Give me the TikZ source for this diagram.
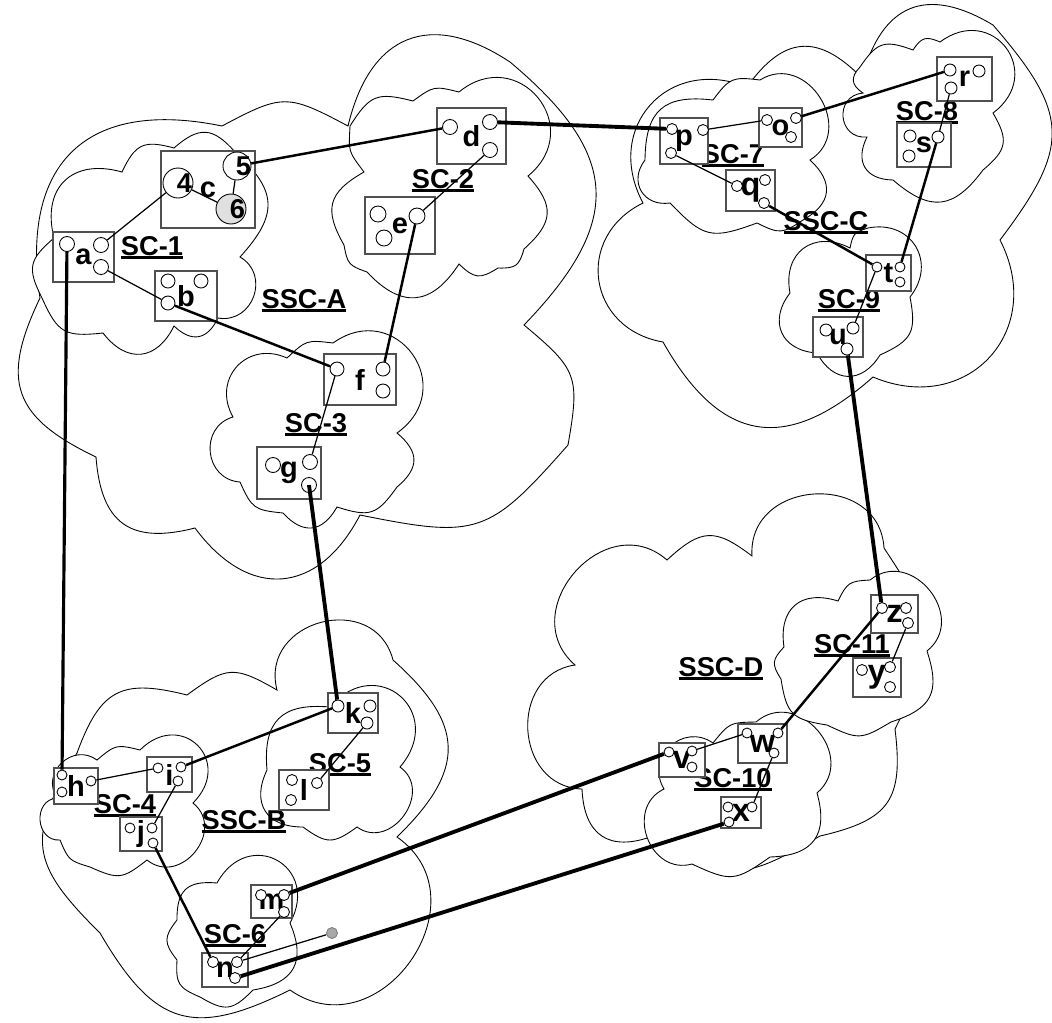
\documentclass[tikz,border=0pt]{standalone}
\usepackage{fontspec}
\setmainfont{Liberation Sans}
\usetikzlibrary{positioning}
\definecolor{boxgray}{HTML}{505050}
\definecolor{portgray}{HTML}{E0E0E0}
\definecolor{dotgray}{HTML}{A8A8A8}
\tikzset{
  cloudline/.style={draw=black,fill=white,line width=0.5pt},
  bump/.style={bend left=#1,looseness=1.4},
  dev/.style={draw=boxgray,fill=white,line width=0.6pt,inner sep=0pt,
    font=\bfseries\fontsize{16.5}{18}\selectfont},
  bigletter/.style={font=\bfseries\fontsize{18.5}{20}\selectfont},
  port/.style={circle,draw=black,fill=white,line width=0.5pt,inner sep=0pt},
  digit/.style={inner sep=0pt,xshift=0.13cm,font=\bfseries\fontsize{15.5}{18}\selectfont},
  lbl/.style={anchor=base,inner sep=0pt,font=\bfseries\fontsize{15.5}{18}\selectfont},
  thinlink/.style={line width=0.7pt},
  midlink/.style={line width=1.4pt},
  thicklink/.style={line width=2.2pt},
}
\newcommand{\undl}[1]{% underlined cluster name
  \setbox0\hbox{#1}\rlap{\rule[-2.3pt]{\wd0}{1.5pt}}\box0}
\newcommand{\devbox}[6][]{% [options]{name}{x}{y}{width}{height}, in pixels
  \node[dev,minimum width=#5*0.02cm,minimum height=#6*0.02cm,#1] (#2) at (#3,-#4) {#2};}
\newcommand{\devport}[5][]{% [options]{name}{x}{y}{radius}
  \node[port,minimum size=#5*0.04cm,#1] (#2) at (#3,-#4) {};}

\begin{document}
\begin{tikzpicture}[x=0.02cm,y=0.02cm]
  \useasboundingbox (0,0) rectangle (1052,-1022);
  % Super clusters
  \draw[cloudline] (40,-298) to[bump=55] (222,-126) to[bump=28] (348,-126)
    to[bump=55] (510,-62) to[bump=47] (524,-325) to[bump=30] (568,-445)
    to[bump=30] (360,-515) to[bump=58] (195,-528) to[bump=50] (96,-457)
    to[bump=45] (40,-298) -- cycle;
  \draw[cloudline] (100,-933) to[bump=38] (77,-753) to[bump=42] (187,-695)
    to[bump=33] (277,-690) to[bump=90,looseness=1.55] (393,-660)
    to[bump=47] (397,-837) to[bump=90,looseness=1.5] (290,-990)
    to[bump=43] (100,-933) -- cycle;
  \draw[cloudline] (643,-203) to[bump=70] (747,-87) to[bump=50] (862,-78)
    to[bump=53] (993,-25) to[bump=39] (1000,-240) to[bump=70] (873,-377)
    to[bump=51] (663,-342) to[bump=72] (643,-203) -- cycle;
  \draw[cloudline] (575,-665) to[bump=90,looseness=1.5] (667,-560)
    to[bump=40] (752,-556) to[bump=90,looseness=1.5] (884,-548)
    to[bump=30] (895,-729) to[bump=42] (820,-836) to[bump=30] (653,-836)
    to[bump=54] (582,-789) to[bump=85] (575,-665) -- cycle;
  % Sub clusters
  \draw[cloudline] (54,-238) to[bump=60] (122,-172) to[bump=40] (174,-148)
    to[bump=45] (235,-152) to[bump=45] (240,-257) to[bump=80] (218,-318)
    to[bump=54] (174,-326) to[bump=58] (103,-333) to[bump=36] (42,-298)
    to[bump=38] (54,-238) -- cycle;
  \draw[cloudline] (350,-126) to[bump=36] (413,-101) to[bump=25] (459,-92)
    to[bump=90,looseness=1.8] (528,-176) to[bump=45] (524,-249)
    to[bump=38] (498,-268) to[bump=38] (459,-264) to[bump=52] (367,-272)
    to[bump=30] (344,-245) to[bump=45] (364,-172) to[bump=20] (350,-126) -- cycle;
  \draw[cloudline] (287,-358) to[bump=25] (333,-343)
    to[bump=90,looseness=1.8] (397,-433) to[bump=50] (397,-487)
    to[bump=36] (337,-507) to[bump=54] (283,-513) to[bump=30] (240,-482)
    to[bump=80] (233,-417) to[bump=72] (287,-358) -- cycle;
  \draw[cloudline] (645,-160) to[bump=48] (713,-100) to[bump=30] (760,-80)
    to[bump=90,looseness=1.5] (810,-160) to[bump=54] (803,-220)
    to[bump=30] (757,-223) to[bump=33] (670,-203) to[bump=68] (645,-160) -- cycle;
  \draw[cloudline] (860,-67) to[bump=38] (913,-50) to[bump=40] (940,-42)
    to[bump=90,looseness=1.9] (993,-113) to[bump=40] (983,-170)
    to[bump=47] (893,-180) to[bump=58] (867,-137)
    to[bump=90,looseness=1.7] (863,-93) to[bump=50] (860,-67) -- cycle;
  \draw[cloudline] (790,-293) to[bump=64] (850,-248) to[bump=30] (868,-228)
    to[bump=70] (910,-297) to[bump=38] (880,-355) to[bump=60] (817,-353)
    to[bump=62] (790,-293) -- cycle;
  \draw[cloudline] (57,-798) to[bump=80] (97,-760) to[bump=27] (140,-750)
    to[bump=90,looseness=2] (193,-803) to[bump=90,looseness=1.5] (147,-860)
    to[bump=31] (90,-867) to[bump=25] (60,-840)
    to[bump=90,looseness=1.5] (57,-798) -- cycle;
  \draw[cloudline] (267,-770) to[bump=50] (330,-707)
    to[bump=90,looseness=2] (400,-767) to[bump=90,looseness=1.45] (357,-827)
    to[bump=36] (303,-827) to[bump=58] (267,-770) -- cycle;
  \draw[cloudline] (177,-920) to[bump=48] (217,-883)
    to[bump=90,looseness=2] (290,-923) to[bump=52] (253,-990)
    to[bump=38] (200,-997) to[bump=35] (177,-960) to[bump=38] (177,-920) -- cycle;
  \draw[cloudline] (664,-789) to[bump=78] (713,-743) to[bump=25] (756,-722)
    to[bump=90,looseness=1.5] (817,-793) to[bump=52] (770,-857)
    to[bump=30] (692,-864) to[bump=85] (664,-789) -- cycle;
  \draw[cloudline] (784,-647) to[bump=58] (838,-601) to[bump=30] (870,-580)
    to[bump=90,looseness=1.5] (927,-651) to[bump=45] (891,-722)
    to[bump=28] (827,-725) to[bump=36] (781,-679) to[bump=38] (784,-647) -- cycle;
  % Cluster names
  \node[lbl] (nSSCA) at (304,-308) {\undl{SSC-A}};
  \node[lbl] (nSSCB) at (244,-829) {\undl{SSC-B}};
  \node[lbl] (nSSCC) at (826,-230) {\undl{SSC-C}};
  \node[lbl] (nSSCD) at (721,-676) {\undl{SSC-D}};
  \node[lbl] (nSC1) at (152,-255) {\undl{SC-1}};
  \node[lbl] (nSC2) at (443,-188) {\undl{SC-2}};
  \node[lbl] (nSC3) at (316,-432) {\undl{SC-3}};
  \node[lbl] (nSC4) at (125,-813) {\undl{SC-4}};
  \node[lbl] (nSC5) at (340,-772) {\undl{SC-5}};
  \node[lbl] (nSC6) at (235,-943) {\undl{SC-6}};
  \node[lbl] (nSC7) at (733,-163) {\undl{SC-7}};
  \node[lbl] (nSC8) at (927,-120) {\undl{SC-8}};
  \node[lbl] (nSC9) at (849,-308) {\undl{SC-9}};
  \node[lbl] (nSC10) at (733,-787) {\undl{SC-10}};
  \node[lbl] (nSC11) at (852,-653) {\undl{SC-11}};
  % Devices
  \devbox{a}{83.5}{257}{61}{50}
  \devbox{b}{186}{296}{62}{50}
  \devbox{c}{208}{189.5}{94}{77}
  \devbox{d}{471.5}{136}{69}{56}
  \devbox{e}{400}{225.5}{70}{57}
  \devbox{f}{360}{379.5}{72}{51}
  \devbox{g}{289}{473}{64}{52}
  \devbox{h}{76}{786}{44}{36}
  \devbox{i}{169.5}{774.5}{45}{35}
  \devbox{j}{141}{834}{42}{34}
  \devbox{k}{353}{713}{50}{40}
  \devbox{l}{304}{790}{50}{40}
  \devbox{m}{271.5}{901.5}{41}{33}
  \devbox{n}{225}{970}{46}{34}
  \devbox{o}{780.5}{127.5}{43}{39}
  \devbox{p}{684}{141}{48}{46}
  \devbox[bigletter]{q}{750.5}{190.5}{49}{41}
  \devbox{r}{964.5}{79}{55}{44}
  \devbox{s}{924}{145}{54}{44}
  \devbox{t}{888.5}{273}{45}{36}
  \devbox{u}{838}{337}{50}{40}
  \devbox[bigletter]{v}{682}{760}{46}{34}
  \devbox[bigletter]{w}{762.5}{743.5}{49}{39}
  \devbox[bigletter]{x}{741}{812.5}{40}{31}
  \devbox[bigletter]{y}{877}{677.5}{48}{39}
  \devbox[bigletter]{z}{894.5}{614}{47}{38}
  % Ports
  \devport{a1}{67}{244}{7.5} \devport{a2}{101}{245}{7.5} \devport{a3}{101}{267}{7.5}
  \devport{b1}{168}{281}{7} \devport{b2}{201}{281}{7} \devport{b3}{168}{303}{7}
  \devport[label={[digit]center:4}]{c4}{178}{183}{15}
  \devport[label={[digit]center:5}]{c5}{237}{166}{14}
  \devport[fill=portgray,label={[digit]center:6}]{c6}{231}{209}{15}
  \devport{d1}{450}{127}{7.5} \devport{d2}{490}{122}{7.5} \devport{d3}{490}{150}{7.5}
  \devport{e1}{378}{214}{8} \devport{e2}{384}{238}{8} \devport{e3}{417}{216}{8}
  \devport{f1}{337}{369}{7} \devport{f2}{383}{369}{7} \devport{f3}{383}{391}{7}
  \devport{g1}{273}{465}{7.5} \devport{g2}{310}{462}{7.5} \devport{g3}{309}{485}{7.5}
  \devport{h1}{62}{775}{5} \devport{h2}{62}{792}{5} \devport{h3}{91}{781}{5}
  \devport{i1}{158}{768}{5} \devport{i2}{181}{767}{5} \devport{i3}{178}{781}{5}
  \devport{j1}{130}{828}{5} \devport{j2}{152}{828}{5} \devport{j3}{153}{843}{5}
  \devport{k1}{338}{706}{6} \devport{k2}{370}{706}{6} \devport{k3}{367}{723}{6}
  \devport{l1}{292}{780}{5.5} \devport{l2}{291}{800}{5.5} \devport{l3}{317}{783}{5.5}
  \devport{m1}{261}{895}{5.5} \devport{m2}{284}{895}{5.5} \devport{m3}{284}{912}{5.5}
  \devport{n1}{213}{962}{5.5} \devport{n2}{237}{962}{5.5} \devport{n3}{235}{978}{5.5}
  \devport{o1}{767}{120}{5.5} \devport{o2}{796}{118}{5.5} \devport{o3}{791}{137}{5.5}
  \devport{p1}{672}{129}{5.5} \devport{p2}{703}{130}{5.5} \devport{p3}{671}{153}{5.5}
  \devport{q1}{737}{186}{5.5} \devport{q2}{765}{180}{5.5} \devport{q3}{764}{203}{5.5}
  \devport{r1}{950}{70}{6} \devport{r2}{951}{88}{6} \devport{r3}{979}{71}{6}
  \devport{s1}{910}{136}{6} \devport{s2}{909}{156}{6} \devport{s3}{938}{137}{6}
  \devport{t1}{877}{267}{5} \devport{t2}{900}{267}{5} \devport{t3}{900}{282}{5}
  \devport{u1}{826}{330}{6} \devport{u2}{853}{328}{6} \devport{u3}{847}{349}{6}
  \devport{v1}{669}{752}{5} \devport{v2}{692}{751}{5} \devport{v3}{692}{767}{5}
  \devport{w1}{747}{733}{5} \devport{w2}{778}{733}{5} \devport{w3}{774}{753}{5}
  \devport{x1}{728}{807}{5} \devport{x2}{729}{822}{5} \devport{x3}{752}{807}{5}
  \devport{y1}{862}{670}{5.5} \devport{y2}{890}{667}{5.5} \devport{y3}{890}{687}{5.5}
  \devport{z1}{882}{608}{5.5} \devport{z2}{906}{608}{5.5} \devport{z3}{908}{623}{5.5}
  \devport[draw=gray,fill=dotgray]{dot}{332}{933}{5.5}
  % Links inside sub clusters
  \draw[thinlink] (a2) -- (c4);
  \draw[thinlink] (a3) -- (b3);
  \draw[thinlink] (c4) -- (c6);
  \draw[thinlink] (c5) -- (c6);
  \draw[thinlink] (d3) -- (e3);
  \draw[thinlink] (f1) -- (g2);
  \draw[thinlink] (p2) -- (o1);
  \draw[thinlink] (p3) -- (q1);
  \draw[thinlink] (r2) -- (s3);
  \draw[thinlink] (t1) -- (u2);
  \draw[thinlink] (h3) -- (i1);
  \draw[thinlink] (i3) -- (j2);
  \draw[thinlink] (k3) -- (l3);
  \draw[thinlink] (m3) -- (n2);
  \draw[thinlink] (n2) -- (dot);
  \draw[thinlink] (z3) -- (y2);
  \draw[thinlink] (w1) -- (v2);
  \draw[thinlink] (w3) -- (x3);
  % Links between sub clusters
  \draw[midlink] (c5) -- (d1);
  \draw[midlink] (b3) -- (f1);
  \draw[midlink] (e3) -- (f2);
  \draw[midlink] (o2) -- (r1);
  \draw[midlink] (s3) -- (t2);
  \draw[midlink] (q3) -- (t1);
  \draw[midlink] (i2) -- (k1);
  \draw[midlink] (j3) -- (n1);
  \draw[midlink] (z1) -- (w2);
  % Links between super clusters
  \draw[line width=1.8pt] (a1) -- (h1);
  \draw[thicklink] (g3.center) -- (k1);
  \draw[thicklink] (d2) -- (p1);
  \draw[thicklink] (u3) -- (z1);
  \draw[thicklink] (m2) -- (v1);
  \draw[thicklink] (n3) -- (x2);
\end{tikzpicture}
\end{document}
